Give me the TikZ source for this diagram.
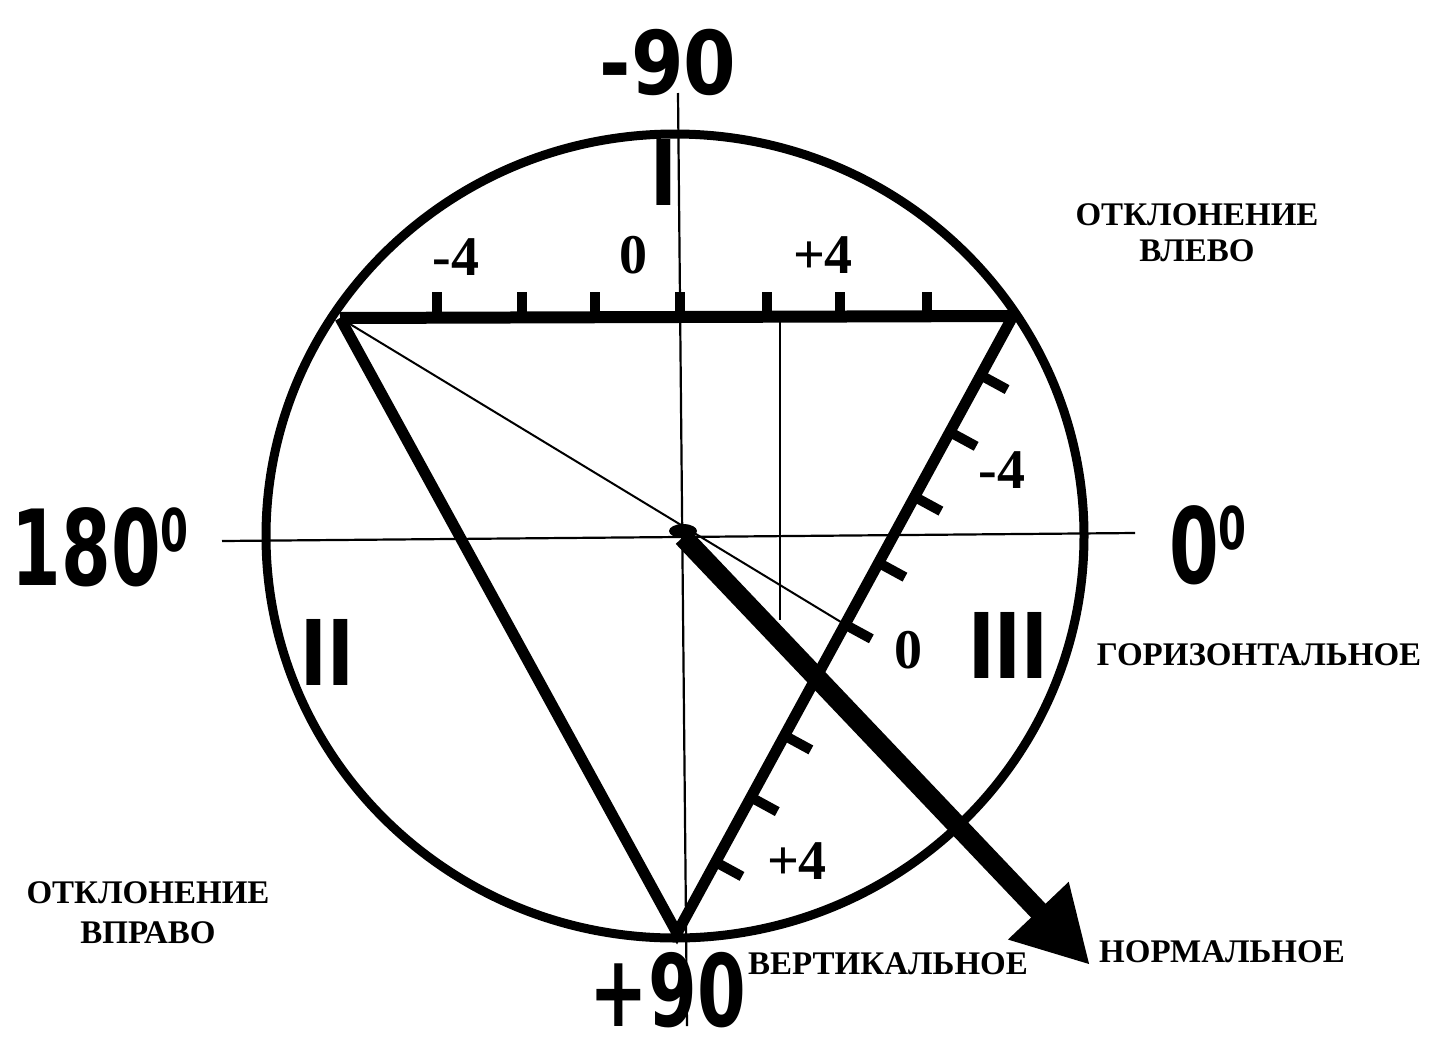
\documentclass[tikz,border=0pt]{standalone}
\usepackage{fontspec}
\usetikzlibrary{arrows.meta,calc}
\setmainfont{Liberation Serif}
\newfontfamily\heavy{DejaVu Sans}
\newfontfamily\bars{Liberation Sans}
\tikzset{
  axisline/.style={line width=2.2pt},
  sideline/.style={line width=11pt, line join=miter},
  tickmark/.style={line width=10pt},
  capt/.style={inner sep=0pt, font=\fontsize{33}{36}\selectfont\bfseries},
  num/.style={inner sep=0pt, font=\fontsize{56}{60}\selectfont\bfseries},
  roman/.style={inner sep=0pt, font=\bars\bfseries\fontsize{96}{100}\selectfont},
  big/.style={inner sep=0pt, font=\heavy\bfseries\fontsize{105}{110}\selectfont},
}
\begin{document}
\begin{tikzpicture}[x=1pt,y=-1pt]
\fill[white] (0,0) rectangle (1429,1039);
\useasboundingbox (0,0) rectangle (1429,1039);

% key points
\coordinate (O) at (675,536);
\coordinate (A) at (340,318);
\coordinate (B) at (1013,316);
\coordinate (C) at (677,933);
\coordinate (M) at ($(B)!0.5!(C)$);
\coordinate (hL) at (222,541);
\coordinate (hR) at (1135,533);
\coordinate (vT) at (678,93);
\coordinate (vB) at (687,1026);
\coordinate (v2T) at (780,321);
\coordinate (v2B) at (780,620);
\coordinate (start) at (683,537);
\coordinate (tip) at (1090,965);

% circle
\draw[line width=9pt] (O) ellipse [x radius=409pt, y radius=402pt];

% thin lines
\draw[axisline] (hL) -- (hR);
\draw[axisline] (vT) -- (vB);
\draw[line width=1.8pt] (v2T) -- (v2B);
\draw[line width=2pt] (A) -- (M);

% triangle
\draw[line width=12pt] (A) -- (B);
\draw[sideline] (A) -- (C) -- (B);

% ticks on top side
\foreach \x in {437,522,595,680,767,840,927}
  \draw[tickmark] (\x,321) -- (\x,292);

% ticks on right side
\foreach \t in {0.096,0.188,0.293,0.40,0.50,0.68,0.78,0.885} {
  \coordinate (p) at ($(B)!\t!(C)$);
  \draw[tickmark] (p) -- ($(p)!30pt!90:(C)$);
}

% arrow
\draw[line width=20pt, -{Triangle[length=75pt,width=78pt]}] (start) -- (tip);
\fill (683,531) ellipse [x radius=14pt, y radius=7pt];

% scale labels
\node[num] (t1) at (456,257) {-4};
\node[num] (t2) at (633,255) {0};
\node[num] (t3) at (823,255) {+4};
\node[num] (r1) at (1002,470) {-4};
\node[num] (r2) at (908,650) {0};
\node[num] (r3) at (797,861) {+4};

% roman numerals
\node[roman] (q1) at (664,172) {I};
\node[roman] (q2) at (327,652) {II};
\node[roman] (q3) at (1008,645) {III};

% big numbers
\node[inner sep=0pt, font=\heavy\bfseries\fontsize{88}{92}\selectfont] (m90) at (668,62) {\scalebox{0.86}[1]{-90}};
\node[big, font=\heavy\bfseries\fontsize{100}{104}\selectfont] (p90) at (668,990) {\scalebox{0.7}[1]{+90}};
\node[big, anchor=south east] (d180) at (189,587) {\scalebox{0.68}[1]{180\raisebox{34pt}{\fontsize{59}{60}\selectfont 0}}};
\node[big, anchor=south east] (d0) at (1247,585) {\scalebox{0.68}[1]{0\raisebox{34pt}{\fontsize{59}{60}\selectfont 0}}};

% captions
\node[capt, align=center] (left) at (1197,233) {ОТКЛОНЕНИЕ\\ВЛЕВО};
\node[capt, align=center, font=\fontsize{33}{40}\selectfont\bfseries] (right) at (148,913) {ОТКЛОНЕНИЕ\\ВПРАВО};
\node[capt] (hor) at (1259,655) {ГОРИЗОНТАЛЬНОЕ};
\node[capt] (ver) at (888,964) {ВЕРТИКАЛЬНОЕ};
\node[capt] (nor) at (1222,952) {НОРМАЛЬНОЕ};
\end{tikzpicture}
\end{document}
